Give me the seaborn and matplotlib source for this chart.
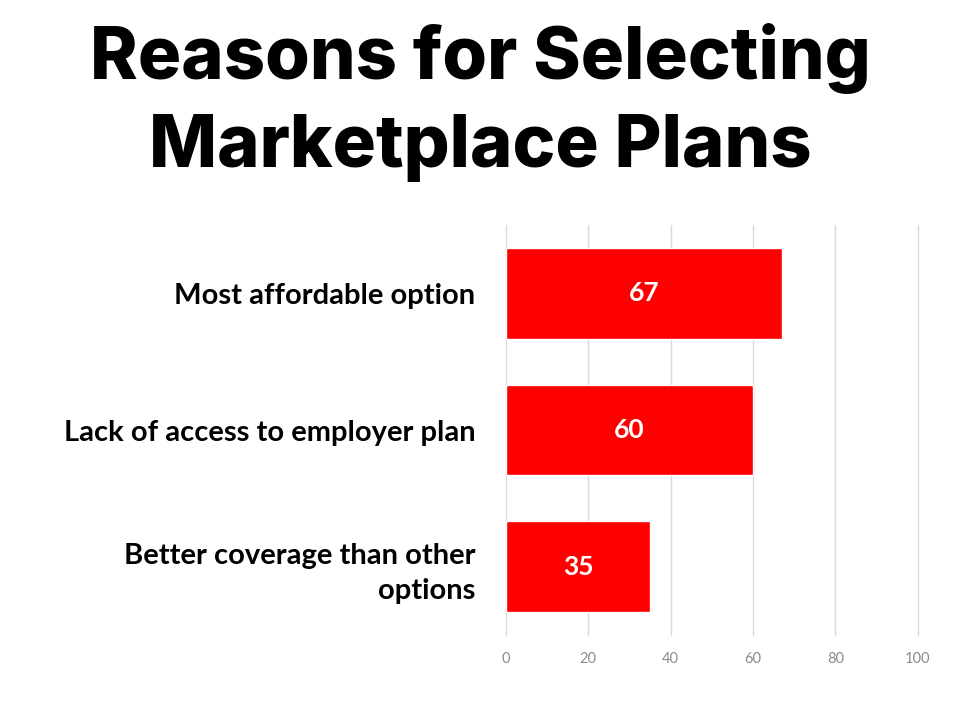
"""Reasons for selecting Marketplace plans - horizontal bar chart."""

import matplotlib
matplotlib.use("Agg")
import matplotlib.pyplot as plt
import pandas as pd
import seaborn as sns

# Datos del gráfico
reasons = [
    "Most affordable option",
    "Lack of access to employer plan",
    "Better coverage than other\noptions",
]
percent = [67, 60, 35]
x_ticks = [0, 20, 40, 60, 80, 100]

df = pd.DataFrame({"reason": reasons, "percent": percent})

sns.set_style("white")
plt.rcParams["font.family"] = ["Lato", "DejaVu Sans"]
plt.rcParams["text.color"] = "black"
plt.rcParams["ytick.color"] = "black"

fig = plt.figure(figsize=(9.6, 7.2), dpi=100)
ax = fig.add_axes([0.527, 0.118, 0.429, 0.5695])

sns.barplot(data=df, x="percent", y="reason", color="#ff0000",
            saturation=1, width=0.665, ax=ax, zorder=3)

# Etiquetas dentro de las barras
for container in ax.containers:
    ax.bar_label(container, label_type="center", color="white",
                 fontsize=19, fontweight="bold")

ax.set_xlim(0, 100)
ax.set_xticks(x_ticks)
ax.set_xlabel("")
ax.set_ylabel("")
ax.grid(axis="x", color="#d9d9d9", linewidth=1, zorder=0)
ax.grid(axis="y", visible=False)
# que la línea del 100 no quede recortada en el borde
for line in ax.get_xgridlines():
    line.set_clip_on(False)
sns.despine(ax=ax, left=True, bottom=True)
ax.tick_params(axis="x", length=0, labelsize=10.5, labelcolor="#8c8c8c", pad=12)
ax.tick_params(axis="y", length=0, labelsize=21, labelcolor="black", pad=22)
for lbl in ax.get_yticklabels():
    lbl.set_fontweight("bold")
    lbl.set_linespacing(1.42)

fig.text(0.5, 0.968, "Reasons for Selecting\nMarketplace Plans",
         ha="center", va="top", fontsize=52, fontweight="heavy",
         color="black", family=["Inter", "DejaVu Sans"], linespacing=1.38)

fig.savefig("out.png", dpi=100)
plt.close(fig)
